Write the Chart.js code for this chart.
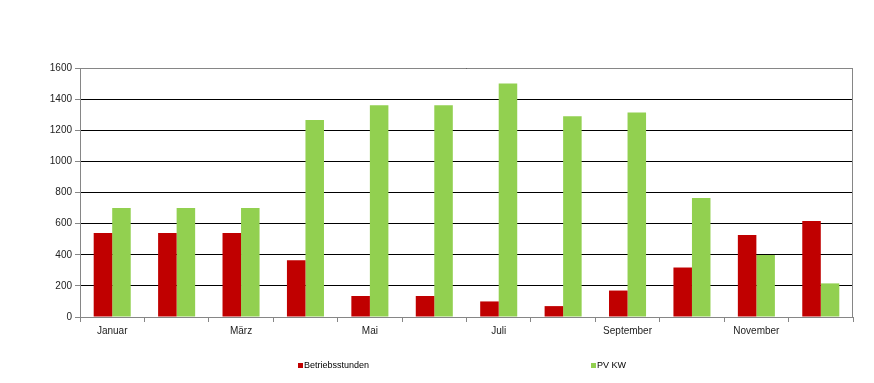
<!DOCTYPE html>
<html><head><meta charset="utf-8">
<script src="https://cdn.jsdelivr.net/npm/chart.js@4"></script>
<style>html,body{margin:0;padding:0;background:#fff}#wrap{width:874px;height:383px;position:relative}</style>
</head><body><div id="wrap"><canvas id="c"></canvas></div>
<script>
const months = ['Januar','Februar','März','April','Mai','Juni','Juli','August','September','Oktober','November','Dezember'];
const shownMonths = ['Januar','März','Mai','Juli','September','November'];
const betriebsstunden = [540,540,540,365,135,135,100,70,170,318,527,617];
const pvKW = [700,700,700,1266,1360,1360,1500,1290,1314,765,398,216];
const seriesNames = ['Betriebsstunden','PV KW'];
const yMin = 0, yMax = 1600, yStep = 200;

const AXIS = '#868686';
const FONT = "'Liberation Sans', Arial, sans-serif";

const frame = {
  id:'frame',
  afterDatasetsDraw(chart){
    const {ctx, chartArea:a} = chart;
    ctx.save();
    ctx.strokeStyle = AXIS; ctx.lineWidth = 1;
    ctx.beginPath();
    ctx.moveTo(a.left, a.top+0.5); ctx.lineTo(a.right, a.top+0.5);
    ctx.moveTo(a.right-0.5, a.top); ctx.lineTo(a.right-0.5, a.bottom);
    ctx.stroke();
    ctx.restore();
  },
  afterDraw(chart){
    const {ctx} = chart;
    const xs = [298, 591];
    ctx.save();
    ctx.font = "9px " + FONT;
    ctx.textBaseline = 'middle';
    chart.data.datasets.forEach((ds,i)=>{
      ctx.fillStyle = ds.backgroundColor;
      ctx.fillRect(xs[i], 363, 5, 5);
      ctx.fillStyle = '#000';
      ctx.fillText(ds.label, xs[i]+6, 366);
    });
    ctx.restore();
  }
};

new Chart(document.getElementById('c'), {
  type:'bar',
  data:{
    labels: months,
    datasets:[
      {label: seriesNames[0], data: betriebsstunden, backgroundColor:'#C00000', borderWidth:0},
      {label: seriesNames[1], data: pvKW, backgroundColor:'#92D050', borderWidth:0}
    ]
  },
  options:{
    responsive:true, maintainAspectRatio:false, animation:false,
    layout:{padding:{left:0, right:21, top:68, bottom:0}},
    plugins:{legend:{display:false}, tooltip:{enabled:false}, title:{display:false}},
    datasets:{bar:{categoryPercentage:0.575, barPercentage:1}},
    scales:{
      x:{
        grid:{offset:true, drawOnChartArea:false, drawTicks:true, tickLength:5, tickColor:AXIS, color:AXIS},
        border:{display:true, color:AXIS, width:1},
        ticks:{autoSkip:false, maxRotation:0, padding:3, color:'#222', font:{family:FONT, size:10},
          callback(v,i){ const m = months[i]; return shownMonths.includes(m) ? m : ''; }},
        afterFit(s){ s.height = 66; }
      },
      y:{
        min:yMin, max:yMax,
        grid:{color:'#000', lineWidth:1, drawTicks:true, tickLength:5, tickColor:AXIS},
        border:{display:true, color:AXIS, width:1},
        ticks:{stepSize:yStep, padding:3, color:'#222', font:{family:FONT, size:10},
          callback(v){ return String(v); }},
        afterFit(s){ s.width = 80; }
      }
    }
  },
  plugins:[frame]
});
</script>
</body></html>
